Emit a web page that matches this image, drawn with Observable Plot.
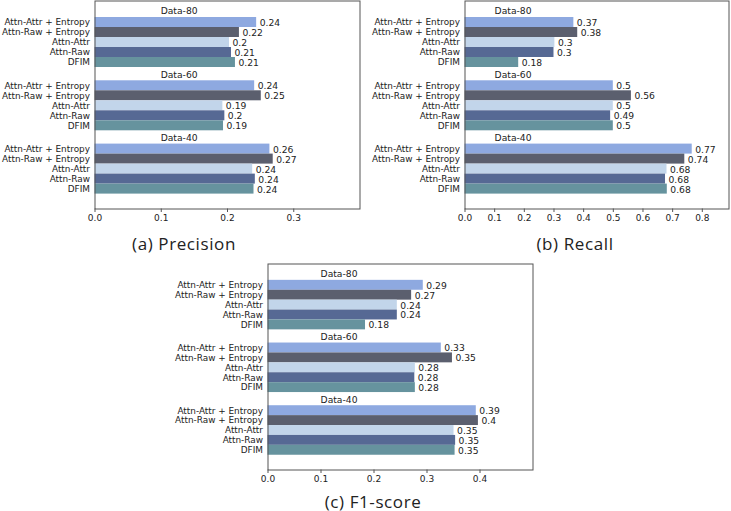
<!DOCTYPE html>
<html><head><meta charset="utf-8">
<script src="https://cdn.jsdelivr.net/npm/d3@7"></script>
<script src="https://cdn.jsdelivr.net/npm/@observablehq/plot@0.6"></script>
<style>
html,body{margin:0;padding:0;background:#fff;}
#root{position:relative;width:731px;height:511px;overflow:hidden;}
.panel{position:absolute;}
.panel svg{overflow:visible;}
.cap{position:absolute;font-family:"Open Sans",sans-serif;font-size:17px;line-height:1;letter-spacing:0.6px;color:#222;transform:translate(-50%,-50%);white-space:nowrap;}
</style></head><body><div id="root"></div>
<script>
// ---- data ----
const groups = ["Data-80", "Data-60", "Data-40"];
const methods = ["Attn-Attr + Entropy", "Attn-Raw + Entropy", "Attn-Attr", "Attn-Raw", "DFIM"];
const colors = ["#8ea9e0", "#5b5f6e", "#c2d5ea", "#566994", "#66939e"];

// rows = groups (Data-80, Data-60, Data-40), cols = methods
const precision = [
  [0.244, 0.218, 0.203, 0.206, 0.212],
  [0.241, 0.251, 0.193, 0.196, 0.194],
  [0.264, 0.269, 0.238, 0.242, 0.240]
];
const recall = [
  [0.367, 0.380, 0.303, 0.300, 0.181],
  [0.500, 0.561, 0.500, 0.491, 0.500],
  [0.766, 0.741, 0.681, 0.676, 0.682]
];
const f1 = [
  [0.293, 0.271, 0.244, 0.244, 0.184],
  [0.327, 0.348, 0.278, 0.277, 0.278],
  [0.393, 0.397, 0.351, 0.354, 0.353]
];
const precisionTicks = [0, 0.1, 0.2, 0.3];
const recallTicks = [0, 0.1, 0.2, 0.3, 0.4, 0.5, 0.6, 0.7, 0.8];
const f1Ticks = [0, 0.1, 0.2, 0.3, 0.4];
const captions = ["(a) Precision", "(b) Recall", "(c) F1-score"];

// ---- layout ----
const GROUP_STEP = 6.33, BAR_START = 1.65, LABEL_OFF = 0.6, Y_MAX = 20.8;
const FONT = "DejaVu Sans, sans-serif";
const TXT = "#222";
const root = document.getElementById("root");

function panel(values, ticks, xMax, groupLabelX, box) {
  const rows = [];
  groups.forEach((g, gi) => methods.forEach((m, mi) => {
    const y1 = BAR_START + GROUP_STEP * gi + mi;
    rows.push({group: g, method: m, color: colors[mi], value: values[gi][mi], y1, y2: y1 + 1, yc: y1 + 0.5,
      label: String(Math.round(values[gi][mi] * 100) / 100)});
  }));
  const glabels = groups.map((g, gi) => ({group: g, y: BAR_START + GROUP_STEP * gi - LABEL_OFF}));
  const frameH = box.frameBottom - box.frameTop;
  const plot = Plot.plot({
    width: box.width,
    height: box.height,
    marginLeft: box.ml,
    marginRight: box.width - box.ml - box.frameW,
    marginTop: 0.5,
    marginBottom: box.height - 0.5 - frameH,
    style: {fontFamily: FONT, color: TXT, background: "transparent"},
    x: {domain: [0, xMax]},
    y: {domain: [0, Y_MAX], reverse: true, axis: null},
    marks: [
      Plot.rect(rows, {x1: 0, x2: "value", y1: "y1", y2: "y2", fill: "color"}),
      Plot.text(rows, {x: "value", y: "yc", text: "label", textAnchor: "start", dx: 3, dy: 0.5, fontSize: 9.2, fill: TXT}),
      Plot.text(rows, {frameAnchor: "left", y: "yc", text: "method", textAnchor: "end", dx: -5, fontSize: 8.9, fill: TXT}),
      Plot.text(glabels, {x: () => groupLabelX, y: "y", text: "group", fontSize: 9.2, fill: TXT}),
      Plot.axisX({ticks, tickFormat: d3.format(".1f"), tickSize: 3.5, tickPadding: 2, fontSize: 9, stroke: "#555", fill: TXT, label: null}),
      Plot.frame({stroke: "#555", strokeWidth: 1})
    ]
  });
  const div = document.createElement("div");
  div.className = "panel";
  div.style.left = box.left + "px";
  div.style.top = box.frameTop - 0.5 + "px";
  div.appendChild(plot);
  root.appendChild(div);
}

function caption(text, cx, cy) {
  const d = document.createElement("div");
  d.className = "cap";
  d.textContent = text;
  d.style.left = cx + "px";
  d.style.top = cy + "px";
  root.appendChild(d);
}

panel(precision, precisionTicks, 0.4, 0.127,
  {left: 0, width: 370, height: 232, ml: 94.5, frameW: 265, frameTop: 0.5, frameBottom: 208.5});
panel(recall, recallTicks, 0.89, 0.162,
  {left: 365, width: 366, height: 232, ml: 99.5, frameW: 264, frameTop: 0.5, frameBottom: 208.5});
panel(f1, f1Ticks, 0.5, 0.134,
  {left: 170, width: 400, height: 240, ml: 97.5, frameW: 265, frameTop: 263.5, frameBottom: 469.5});

caption(captions[0], 184, 243);
caption(captions[1], 575, 243);
caption(captions[2], 373, 501);
</script></body></html>
